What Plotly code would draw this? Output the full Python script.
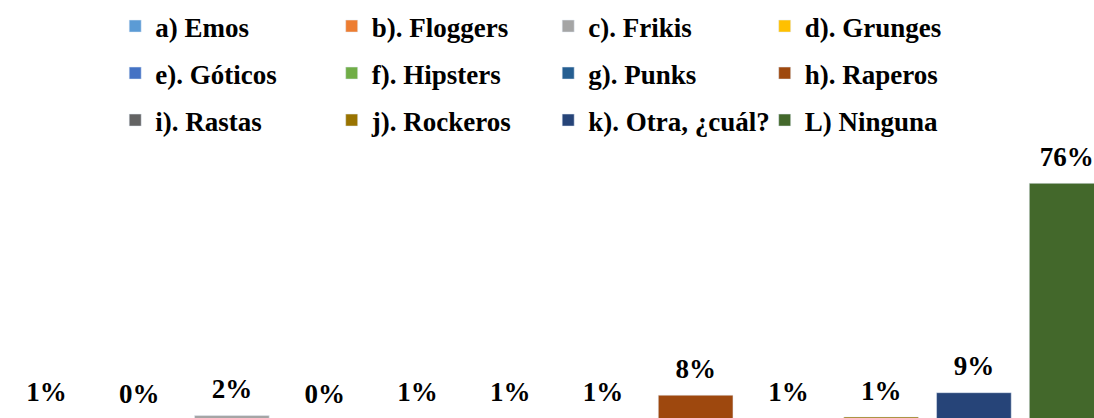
import plotly.graph_objects as go

categories = ["a) Emos", "b). Floggers", "c). Frikis", "d). Grunges",
              "e). Góticos", "f). Hipsters", "g). Punks", "h). Raperos",
              "i). Rastas", "j). Rockeros", "k). Otra, ¿cuál?", "L) Ninguna"]
values = [0.6, 0.0, 1.7, 0.0, 0.6, 0.6, 0.6, 8.2, 0.6, 1.2, 9.0, 76.0]
labels = ["1%", "0%", "2%", "0%", "1%", "1%", "1%", "8%", "1%", "1%", "9%", "76%"]
colors = ["#5B9BD5", "#ED7D31", "#A5A5A5", "#FFC000", "#4472C4", "#70AD47",
          "#255E91", "#9E480E", "#636363", "#997300", "#264478", "#43682B"]
legend_rows = ["legend", "legend2", "legend3"]

FONT = dict(family="Liberation Serif", size=27, color="#000000", weight="bold")

fig = go.Figure()
for i, (cat, val, col) in enumerate(zip(categories, values, colors)):
    fig.add_trace(go.Bar(
        x=[cat], y=[val], name=cat, marker_color=col,
        legend=legend_rows[i // 4], hoverinfo="skip",
    ))

# percentage labels above each bar (invisible marker just pushes the text up)
fig.add_trace(go.Scatter(
    x=categories, y=values, text=labels, mode="markers+text",
    textposition="top center", marker=dict(size=15.6, color="rgba(0,0,0,0)"),
    textfont=FONT, showlegend=False, hoverinfo="skip",
))

legend_base = dict(orientation="h", entrywidth=171.5, entrywidthmode="pixels",
                   x=0.1053, xanchor="left", yanchor="middle",
                   font=FONT, bgcolor="rgba(0,0,0,0)", itemwidth=30,
                   traceorder="normal")

fig.update_layout(
    width=1094, height=418,
    margin=dict(l=0, r=0, t=0, b=0),
    plot_bgcolor="white", paper_bgcolor="white",
    bargap=0.195, barmode="overlay",
    showlegend=True,
    legend=dict(legend_base, y=1 - 26.5 / 418),
    legend2=dict(legend_base, y=1 - 73.5 / 418),
    legend3=dict(legend_base, y=1 - 120.5 / 418),
    xaxis=dict(type="category", categoryorder="array", categoryarray=categories,
               range=[-0.5, 11.295], showticklabels=False, showgrid=False,
               zeroline=False, showline=False, fixedrange=True),
    yaxis=dict(range=[0.9, 134.66], showticklabels=False, showgrid=False,
               zeroline=False, showline=False, fixedrange=True),
)

# page has a default 8px body margin; drop it so the chart fills the window
fig.write_html("out.html", config={"displayModeBar": False},
               post_script="document.body.style.margin='0';"
                           "document.body.style.overflow='hidden';")
